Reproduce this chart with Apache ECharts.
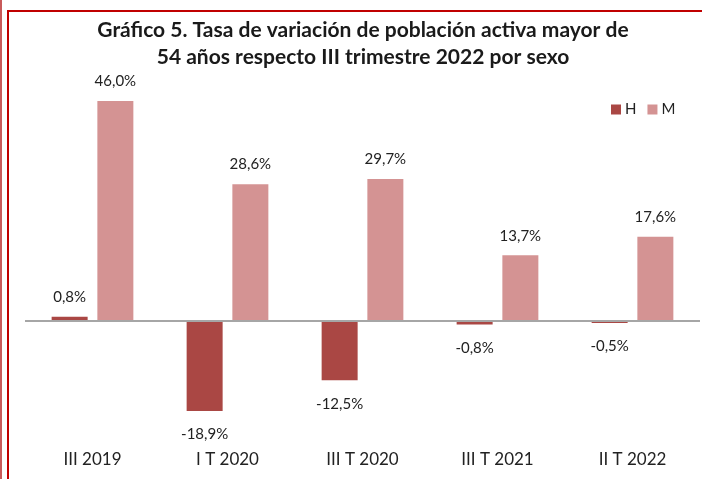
<!DOCTYPE html>
<html>
<head>
<meta charset="utf-8">
<script src="https://cdn.jsdelivr.net/npm/echarts@6/dist/echarts.min.js"></script>
<style>
  html, body { margin: 0; padding: 0; background: #fff; }
  #box { width: 702px; height: 479px; }
</style>
</head>
<body>
<div id="box"></div>
<script>
// datos del gráfico
let titleText = "Gráfico 5. Tasa de variación de población activa mayor de\n54 años respecto III trimestre 2022 por sexo";
let categories = ["III 2019", "I T 2020", "III T 2020", "III T 2021", "II T 2022"];
let hombres = [0.8, -18.9, -12.5, -0.8, -0.5];
let mujeres = [46.0, 28.6, 29.7, 13.7, 17.6];
let seriesNames = ["H", "M"];
let colors = ["#AA4744", "#D49393"];

let chart = echarts.init(document.getElementById("box"), null, { renderer: "canvas" });

function fmt(v) {
  return v.toFixed(1).replace(".", ",") + "%";
}

// etiqueta arriba si positivo, abajo si negativo
function toItems(values) {
  return values.map(v => ({
    value: v,
    label: v >= 0
      ? { position: "top", distance: 12 }
      : { position: "bottom", distance: 16 }
  }));
}

let labelStyle = {
  show: true,
  formatter: p => fmt(p.value),
  fontFamily: "Lato",
  fontSize: 15,
  color: "#222"
};

let option = {
  animation: false,
  color: colors,
  legend: {
    data: seriesNames,
    left: 606,
    top: 97,
    itemWidth: 10,
    itemHeight: 10,
    itemGap: 11,
    icon: "rect",
    textStyle: { fontFamily: "Lato", fontSize: 15, color: "#222", padding: [0, 0, 0, -1] }
  },
  grid: { left: 25, right: 2, top: 82, bottom: 39, containLabel: false },
  xAxis: {
    type: "category",
    data: categories,
    axisLine: { show: false },
    axisTick: { show: false },
    axisLabel: { margin: 11, fontFamily: "Lato", fontSize: 17, color: "#222" }
  },
  yAxis: {
    type: "value",
    min: -25,
    max: 50,
    interval: 25,
    show: false,
    splitLine: { show: false }
  },
  graphic: [
    { type: "rect", shape: { x: 0, y: 0, width: 2, height: 479 }, style: { fill: "#C85A5A" } },
    { type: "rect", shape: { x: 7, y: 10, width: 2, height: 469 }, style: { fill: "#C00000" } },
    { type: "rect", shape: { x: 7, y: 10, width: 695, height: 2 }, style: { fill: "#C00000" } },
    {
      type: "text",
      x: 363,
      y: 17,
      style: {
        text: titleText,
        textAlign: "center",
        fontFamily: "Lato",
        fontWeight: "bold",
        fontSize: 21,
        lineHeight: 27,
        fill: "#1a1a1a"
      }
    }
  ],
  series: [
    {
      name: seriesNames[0],
      type: "bar",
      data: toItems(hombres),
      barWidth: 36,
      barGap: "27%",
      label: labelStyle,
      markLine: {
        silent: true,
        symbol: "none",
        label: { show: false },
        lineStyle: { color: "#A6A6A6", width: 2, type: "solid" },
        data: [{ yAxis: 0 }]
      }
    },
    {
      name: seriesNames[1],
      type: "bar",
      data: toItems(mujeres),
      barWidth: 36,
      label: labelStyle
    }
  ]
};

chart.setOption(option);
</script>
</body>
</html>
